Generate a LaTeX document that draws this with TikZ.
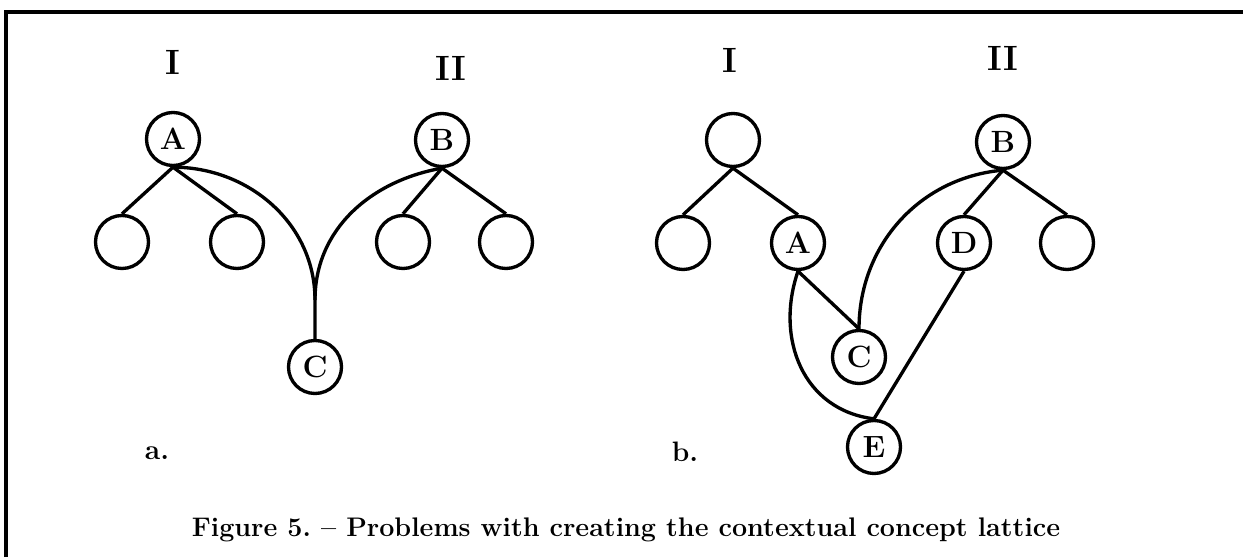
\documentclass[tikz,border=0pt]{standalone}
\usepackage{tikz}

\begin{document}
\begin{tikzpicture}[line width=1.9pt,
  vtx/.style={draw, circle, minimum size=1.06cm, inner sep=0pt, font=\fontsize{17.5}{19}\selectfont\bfseries},
  lbl/.style={font=\fontsize{20}{23}\selectfont\bfseries},
  captxt/.style={font=\fontsize{15.3}{18}\selectfont\bfseries}]
  \useasboundingbox (0,0) rectangle (24.86,11.14);
  \draw (0.12,0) -- (0.12,10.9) -- (24.86,10.9);
  \node[lbl] (Ia) at (3.46,9.9) {I};
  \node[lbl] (IIa) at (9.02,9.78) {II};
  \node[vtx] (Aa) at (3.46,8.36) {A};
  \node[vtx] (Ba) at (8.84,8.34) {B};
  \node[vtx] (a1) at (2.44,6.3) {};
  \node[vtx] (a2) at (4.74,6.3) {};
  \node[vtx] (a3) at (8.06,6.3) {};
  \node[vtx] (a4) at (10.12,6.3) {};
  \node[vtx] (Ca) at (6.3,3.8) {C};
  \coordinate (cusp) at (6.3,5.14);
  \draw (Aa.south) -- (a1.north);
  \draw (Aa.south) -- (a2.north);
  \draw (Ba.south) -- (a3.north);
  \draw (Ba.south) -- (a4.north);
  \draw (Aa.south) to[out=0,in=90] (cusp) -- (Ca.north);
  \draw (Ba.south) to[out=190,in=90] (cusp);
  \node[captxt, font=\fontsize{16}{19}\selectfont\bfseries] (la) at (3.14,2.08) {a.};
  \node[lbl] (Ib) at (14.6,9.94) {I};
  \node[lbl] (IIb) at (20.06,9.98) {II};
  \node[vtx] (b0) at (14.66,8.34) {};
  \node[vtx] (Bb) at (20.06,8.3) {B};
  \node[vtx] (b1) at (13.66,6.28) {};
  \node[vtx] (Ab) at (15.96,6.28) {A};
  \node[vtx] (Db) at (19.28,6.28) {D};
  \node[vtx] (b4) at (21.34,6.28) {};
  \node[vtx] (Cb) at (17.18,4.0) {C};
  \node[vtx] (Eb) at (17.48,2.2) {E};
  \draw (b0.south) -- (b1.north);
  \draw (b0.south) -- (Ab.north);
  \draw (Bb.south) -- (Db.north);
  \draw (Bb.south) -- (b4.north);
  \draw (Ab.south) -- (Cb.north);
  \draw (Ab.south) to[out=-109,in=173,looseness=1.1] (Eb.north);
  \draw (Bb.south) to[out=185,in=90] (Cb.north);
  \draw (Db.south) -- (Eb.north);
  \node[captxt, font=\fontsize{16}{19}\selectfont\bfseries] (lb) at (13.7,2.1) {b.};
  \node[captxt] (title) at (12.52,0.54) {Figure 5.\ -- Problems with creating the contextual concept lattice};
\end{tikzpicture}
\end{document}
